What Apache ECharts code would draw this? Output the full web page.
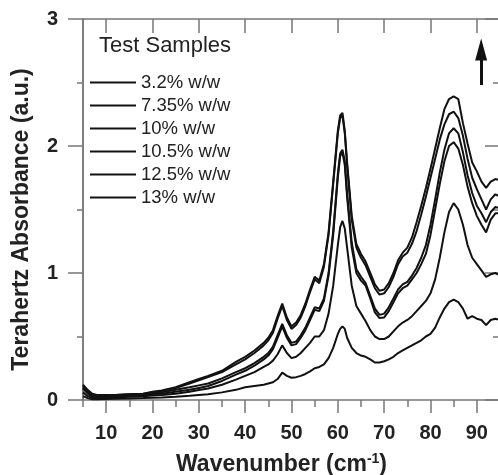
<!DOCTYPE html>
<html>
<head>
<meta charset="utf-8">
<script src="https://cdn.jsdelivr.net/npm/echarts@6/dist/echarts.min.js"></script>
<style>
  html, body { margin: 0; padding: 0; background: #fff; }
  #chart { width: 498px; height: 475px; }
</style>
</head>
<body>
<div id="chart"></div>
<script>
// wavenumber grid (cm-1)
const wavenumbers = [5, 6, 7, 8, 10, 12, 15, 18, 20, 22, 25, 28, 30, 32, 35, 38, 40, 42, 44, 45, 46, 47, 48, 49, 50, 51, 52, 53, 54, 55, 56, 57, 58, 59, 60, 60.5, 61, 61.5, 62, 63, 64, 65, 66, 67, 68, 69, 70, 71, 72, 73, 74, 75, 76, 77, 78, 79, 80, 81, 82, 83, 84, 85, 86, 87, 88, 89, 90, 91, 92, 93, 94, 95]

const sampleNames = ['3.2% w/w', '7.35% w/w', '10% w/w', '10.5% w/w', '12.5% w/w', '13% w/w']

const abs32 = [0.03, 0.015, 0.005, 0.005, 0.008, 0.01, 0.012, 0.015, 0.018, 0.02, 0.025, 0.033, 0.04, 0.046, 0.06, 0.08, 0.1, 0.11, 0.12, 0.13, 0.14, 0.165, 0.215, 0.19, 0.175, 0.18, 0.19, 0.205, 0.225, 0.25, 0.26, 0.28, 0.33, 0.41, 0.52, 0.56, 0.58, 0.56, 0.49, 0.41, 0.37, 0.35, 0.34, 0.32, 0.295, 0.295, 0.305, 0.32, 0.34, 0.37, 0.39, 0.41, 0.43, 0.45, 0.47, 0.5, 0.52, 0.57, 0.65, 0.72, 0.77, 0.79, 0.77, 0.72, 0.64, 0.66, 0.64, 0.63, 0.59, 0.63, 0.64, 0.63]
const abs735 = [0.06, 0.03, 0.015, 0.01, 0.015, 0.02, 0.025, 0.03, 0.035, 0.04, 0.05, 0.065, 0.078, 0.09, 0.12, 0.16, 0.19, 0.22, 0.26, 0.28, 0.31, 0.36, 0.43, 0.37, 0.33, 0.34, 0.37, 0.41, 0.45, 0.5, 0.5, 0.55, 0.68, 0.9, 1.22, 1.36, 1.41, 1.35, 1.2, 0.9, 0.74, 0.68, 0.62, 0.55, 0.5, 0.48, 0.48, 0.5, 0.54, 0.58, 0.61, 0.63, 0.66, 0.7, 0.74, 0.78, 0.84, 0.95, 1.12, 1.32, 1.48, 1.55, 1.5, 1.38, 1.22, 1.12, 1.07, 1.02, 0.97, 0.99, 1.0, 0.98]
const abs10 = [0.09, 0.05, 0.025, 0.02, 0.02, 0.025, 0.03, 0.035, 0.045, 0.05, 0.065, 0.08, 0.095, 0.11, 0.15, 0.2, 0.23, 0.27, 0.32, 0.35, 0.4, 0.49, 0.58, 0.49, 0.43, 0.44, 0.49, 0.55, 0.63, 0.71, 0.7, 0.78, 0.98, 1.3, 1.75, 1.92, 1.95, 1.85, 1.6, 1.2, 1.0, 0.94, 0.9, 0.8, 0.69, 0.645, 0.65, 0.7, 0.77, 0.84, 0.88, 0.9, 0.95, 1.0, 1.07, 1.15, 1.3, 1.5, 1.7, 1.88, 2.0, 2.03, 1.98, 1.85, 1.68, 1.55, 1.45, 1.38, 1.32, 1.42, 1.47, 1.47]
const abs105 = [0.11, 0.07, 0.04, 0.03, 0.03, 0.035, 0.04, 0.045, 0.055, 0.06, 0.08, 0.1, 0.115, 0.13, 0.17, 0.22, 0.25, 0.29, 0.34, 0.37, 0.42, 0.51, 0.6, 0.51, 0.45, 0.46, 0.51, 0.57, 0.65, 0.73, 0.72, 0.8, 1.0, 1.33, 1.78, 1.94, 1.97, 1.88, 1.63, 1.24, 1.03, 0.97, 0.92, 0.82, 0.72, 0.67, 0.68, 0.73, 0.8, 0.87, 0.91, 0.93, 0.98, 1.04, 1.12, 1.22, 1.38, 1.58, 1.79, 1.97, 2.1, 2.14, 2.1, 1.95, 1.77, 1.63, 1.53, 1.47, 1.4, 1.48, 1.52, 1.51]
const abs125 = [0.12, 0.08, 0.05, 0.04, 0.04, 0.04, 0.045, 0.05, 0.06, 0.07, 0.095, 0.13, 0.155, 0.18, 0.22, 0.28, 0.32, 0.37, 0.43, 0.47, 0.53, 0.64, 0.74, 0.63, 0.56, 0.59, 0.65, 0.74, 0.85, 0.95, 0.92, 1.05, 1.3, 1.7, 2.1, 2.22, 2.24, 2.1, 1.85, 1.42, 1.2, 1.12, 1.06, 0.97, 0.88, 0.83, 0.84, 0.89, 0.97, 1.07, 1.13, 1.16, 1.23, 1.33, 1.46, 1.6, 1.75, 1.9, 2.05, 2.17, 2.25, 2.27, 2.22, 2.08, 1.9, 1.75, 1.66, 1.58, 1.5, 1.58, 1.62, 1.6]
const abs13 = [0.1, 0.06, 0.04, 0.035, 0.04, 0.04, 0.045, 0.05, 0.065, 0.075, 0.1, 0.14, 0.165, 0.19, 0.23, 0.3, 0.34, 0.39, 0.45, 0.49, 0.55, 0.66, 0.76, 0.65, 0.58, 0.61, 0.67, 0.76, 0.87, 0.97, 0.94, 1.07, 1.32, 1.72, 2.12, 2.24, 2.26, 2.12, 1.87, 1.45, 1.23, 1.15, 1.09, 1.0, 0.91, 0.86, 0.87, 0.92, 1.0, 1.1, 1.16, 1.2, 1.28, 1.4, 1.53, 1.67, 1.82, 1.98, 2.14, 2.29, 2.37, 2.39, 2.37, 2.18, 2.02, 1.87, 1.8, 1.72, 1.67, 1.72, 1.74, 1.73]

const seriesValues = [abs32, abs735, abs10, abs105, abs125, abs13]

// tick labels
const xMajorTicks = [10, 20, 30, 40, 50, 60, 70, 80, 90]
const xMinorTicks = [5, 15, 25, 35, 45, 55, 65, 75, 85, 95]
const yTicks = [0, 1, 2, 3]

// arrow in the top right corner (data coords)
const arrowStart = [90.93, 2.48]
const arrowEnd = [90.93, 2.76]

const font = 'Liberation Sans, Arial, Helvetica, sans-serif'
const axisGrey = '#777'

const chart = echarts.init(document.getElementById('chart'))

const series = sampleNames.map((name, i) => ({
  name: name,
  type: 'line',
  xAxisIndex: 0,
  yAxisIndex: 0,
  showSymbol: false,
  symbol: 'none',
  data: wavenumbers.map((x, j) => [x, seriesValues[i][j]]),
  lineStyle: { color: '#111', width: 2 },
  itemStyle: { color: '#111' },
  z: 3
}))

series[5].markLine = {
  silent: true,
  symbol: ['none', 'triangle'],
  symbolSize: [12, 22],
  label: { show: false },
  lineStyle: { color: '#111', width: 3, type: 'solid' },
  data: [[{ coord: arrowStart }, { coord: arrowEnd }]]
}

const xBase = {
  type: 'value',
  min: 5,
  max: 95,
  splitLine: { show: false }
}

const option = {
  animation: false,
  color: ['#111'],
  title: {
    text: 'Test Samples',
    left: 99,
    top: 35,
    padding: 0,
    textStyle: { fontFamily: font, fontSize: 22, fontWeight: 'normal', color: '#222' }
  },
  legend: {
    orient: 'vertical',
    left: 90,
    top: 73,
    padding: 0,
    itemWidth: 46,
    itemHeight: 2,
    itemGap: 4,
    icon: 'rect',
    data: sampleNames,
    itemStyle: { color: '#111' },
    textStyle: { fontFamily: font, fontSize: 18.5, lineHeight: 18, color: '#222' }
  },
  grid: { left: 83, top: 19, right: -2, bottom: 75, outerBoundsMode: 'none', containLabel: false },
  xAxis: [
    Object.assign({}, xBase, {
      position: 'bottom',
      name: 'Wavenumber (cm{sup|-1})',
      nameLocation: 'middle',
      nameGap: 52,
      nameTextStyle: {
        fontFamily: font, fontSize: 23, fontWeight: 'bold', color: '#222',
        padding: [0, 20, 0, 0],
        rich: { sup: { fontFamily: font, fontSize: 14, fontWeight: 'bold', color: '#222', padding: [0, 0, 12, 0] } }
      },
      axisLine: { onZero: false, lineStyle: { color: axisGrey, width: 1.5 } },
      axisTick: { customValues: xMajorTicks, length: 13, lineStyle: { color: axisGrey, width: 1.5 } },
      axisLabel: {
        customValues: xMajorTicks, margin: 23,
        fontFamily: font, fontSize: 20, fontWeight: 'bold', color: '#222'
      }
    }),
    Object.assign({}, xBase, {
      position: 'bottom',
      axisLine: { show: false },
      axisTick: { customValues: xMinorTicks, length: 7, lineStyle: { color: axisGrey, width: 1.5 } },
      axisLabel: { show: false }
    }),
    Object.assign({}, xBase, {
      position: 'top',
      axisLine: { onZero: false, lineStyle: { color: axisGrey, width: 1.5 } },
      axisTick: { customValues: xMajorTicks, inside: true, length: 14, lineStyle: { color: axisGrey, width: 1.5 } },
      axisLabel: { show: false }
    }),
    Object.assign({}, xBase, {
      position: 'top',
      axisLine: { show: false },
      axisTick: { customValues: xMinorTicks, inside: true, length: 7, lineStyle: { color: axisGrey, width: 1.5 } },
      axisLabel: { show: false }
    })
  ],
  yAxis: [
    {
      type: 'value',
      position: 'left',
      min: 0,
      max: 3,
      interval: 1,
      name: 'Terahertz Absorbance (a.u.)',
      nameLocation: 'middle',
      nameGap: 50,
      nameTextStyle: {
        fontFamily: font, fontSize: 23, fontWeight: 'bold', color: '#222',
        padding: [0, 20, 0, 0]
      },
      splitLine: { show: false },
      axisLine: { onZero: false, lineStyle: { color: '#555', width: 1.5 } },
      axisTick: { customValues: yTicks, length: 15, lineStyle: { color: axisGrey, width: 1.5 } },
      minorTick: { show: true, splitNumber: 2, length: 6, lineStyle: { color: axisGrey, width: 1.5 } },
      axisLabel: {
        customValues: yTicks, margin: 25,
        fontFamily: font, fontSize: 20, fontWeight: 'bold', color: '#222'
      }
    },
    {
      type: 'value',
      position: 'right',
      min: 0,
      max: 3,
      interval: 1,
      splitLine: { show: false },
      axisLine: { onZero: false, lineStyle: { color: axisGrey, width: 1.5 } },
      axisTick: { inside: true, length: 15, lineStyle: { color: axisGrey, width: 1.5 } },
      minorTick: { show: true, splitNumber: 2, length: 7, lineStyle: { color: axisGrey, width: 1.5 } },
      axisLabel: { show: false }
    }
  ],
  series: series
}

chart.setOption(option)
</script>
</body>
</html>
